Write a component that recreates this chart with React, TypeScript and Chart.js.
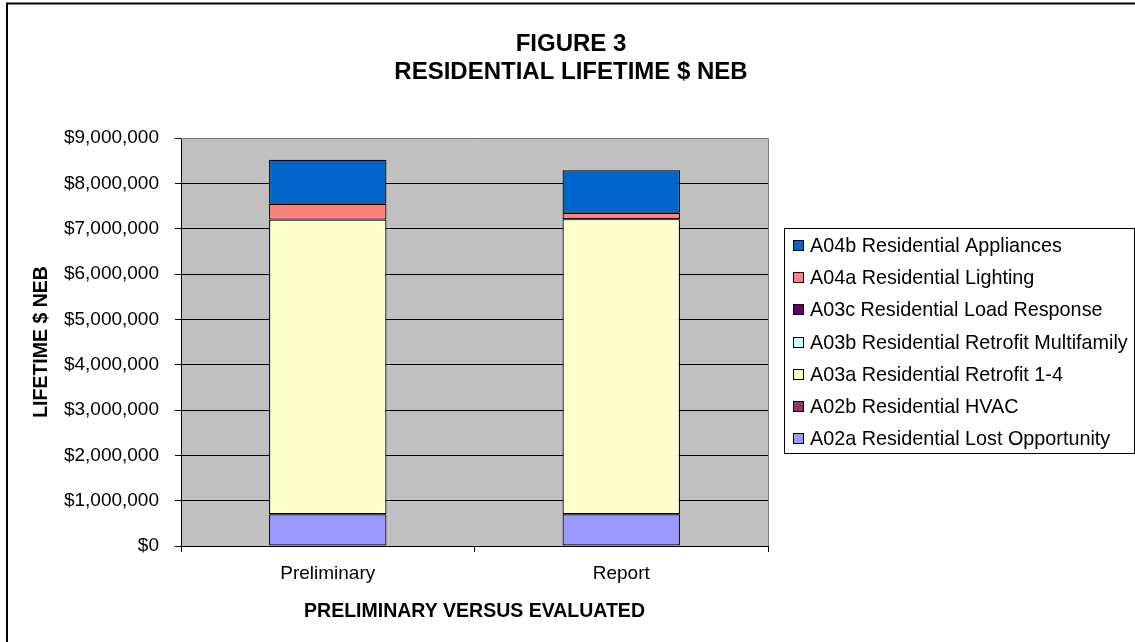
import React, { useEffect, useRef } from "react";
import { Chart, registerables } from "chart.js";

Chart.register(...registerables);

const categories = ["Preliminary", "Report"];
const seriesNames = [
  "A02a Residential Lost Opportunity",
  "A02b Residential HVAC",
  "A03a Residential Retrofit 1-4",
  "A03b Residential Retrofit Multifamily",
  "A03c Residential Load Response",
  "A04a Residential Lighting",
  "A04b Residential Appliances",
];
const lostOpportunity = [700000, 700000];
const hvac = [0, 0];
const retrofit14 = [6500000, 6510000];
const retrofitMultifamily = [0, 0];
const loadResponse = [0, 0];
const lighting = [350000, 140000];
const appliances = [970000, 940000];
const seriesColors = ["#9999FF", "#993366", "#FFFFCC", "#CCFFFF", "#660066", "#FF8080", "#0066CC"];
const yMax = 9000000;
const yStep = 1000000;
const titleLines = ["FIGURE 3", "RESIDENTIAL LIFETIME $ NEB"];
const yAxisTitle = "LIFETIME $ NEB";
const xAxisTitle = "PRELIMINARY VERSUS EVALUATED";

const FONT = "'Liberation Sans', Arial, sans-serif";
const W = 1135;
const H = 642;

const decorPlugin = {
  id: "decor",
  beforeDraw(chart: any) {
    const { ctx, chartArea: a } = chart;
    ctx.save();
    ctx.fillStyle = "#ffffff";
    ctx.fillRect(0, 0, W, H);
    ctx.strokeStyle = "#000000";
    ctx.lineWidth = 2;
    ctx.strokeRect(7, 3.5, W + 20, H + 20);
    ctx.fillStyle = "#C0C0C0";
    ctx.fillRect(a.left, a.top, a.right - a.left, a.bottom - a.top);
    ctx.restore();
  },
  beforeDatasetsDraw(chart: any) {
    const { ctx, chartArea: a } = chart;
    ctx.save();
    ctx.strokeStyle = "#808080";
    ctx.lineWidth = 1;
    ctx.beginPath();
    ctx.moveTo(a.left, Math.round(a.top) + 0.5);
    ctx.lineTo(Math.round(a.right) + 0.5, Math.round(a.top) + 0.5);
    ctx.lineTo(Math.round(a.right) + 0.5, a.bottom);
    ctx.stroke();
    ctx.restore();
  },
  afterDraw(chart: any) {
    const { ctx, chartArea: a } = chart;
    ctx.save();
    ctx.fillStyle = "#000000";
    ctx.textAlign = "center";
    ctx.textBaseline = "alphabetic";
    ctx.font = `bold 24px ${FONT}`;
    ctx.fillText(titleLines[0], 571, 51);
    ctx.fillText(titleLines[1], 571, 79);
    ctx.font = `bold 19.5px ${FONT}`;
    ctx.fillText(xAxisTitle, (a.left + a.right) / 2, 617);
    ctx.save();
    ctx.translate(47, (a.top + a.bottom) / 2);
    ctx.rotate(-Math.PI / 2);
    ctx.fillText(yAxisTitle, 0, 0);
    ctx.restore();
    const lx = 784.5;
    const ly = 228.5;
    const lw = 350;
    const lh = 225;
    ctx.strokeStyle = "#000000";
    ctx.lineWidth = 1;
    ctx.strokeRect(lx, ly, lw, lh);
    ctx.font = `19.8px ${FONT}`;
    ctx.textAlign = "left";
    ctx.textBaseline = "middle";
    const ds = chart.data.datasets;
    for (let i = 0; i < ds.length; i++) {
      const d = ds[ds.length - 1 - i];
      const cy = 245.5 + i * 32.2;
      ctx.fillStyle = d.backgroundColor;
      ctx.fillRect(793, Math.round(cy - 5.5), 11, 11);
      ctx.strokeStyle = "#000000";
      ctx.strokeRect(793.5, Math.round(cy - 5.5) + 0.5, 10, 10);
      ctx.fillStyle = "#000000";
      ctx.fillText(d.label, 810, cy + 1);
    }
    ctx.restore();
  },
};

export default function App() {
  const ref = useRef<HTMLCanvasElement | null>(null);
  useEffect(() => {
    if (!ref.current) return;
    const values = [lostOpportunity, hvac, retrofit14, retrofitMultifamily, loadResponse, lighting, appliances];
    const chart = new Chart(ref.current, {
      type: "bar",
      data: {
        labels: categories,
        datasets: values.map((v, i) => ({
          label: seriesNames[i],
          data: v,
          backgroundColor: seriesColors[i],
          borderColor: "#000000",
          borderWidth: 1.2,
          borderSkipped: false,
          barPercentage: 0.4,
          categoryPercentage: 1,
        })),
      },
      options: {
        responsive: false,
        animation: false,
        devicePixelRatio: 1,
        layout: { padding: { left: 0, top: 138, right: W - 768, bottom: 0 } },
        plugins: {
          legend: { display: false },
          title: { display: false },
          tooltip: { enabled: false },
        },
        scales: {
          x: {
            stacked: true,
            afterFit: (s: any) => {
              s.height = H - 546;
            },
            grid: {
              display: true,
              drawOnChartArea: false,
              offset: true,
              tickLength: 6,
              color: "#000000",
            },
            border: { display: true, color: "#000000", width: 1 },
            ticks: {
              color: "#000000",
              font: { family: FONT, size: 19 },
              padding: 10,
            },
          },
          y: {
            stacked: true,
            min: 0,
            max: yMax,
            afterFit: (s: any) => {
              s.width = 181;
            },
            grid: {
              color: "#000000",
              lineWidth: 1,
              tickLength: 6,
            },
            border: { display: true, color: "#000000", width: 1 },
            ticks: {
              stepSize: yStep,
              color: "#000000",
              padding: 16,
              font: { family: FONT, size: 19 },
              callback: (v: any) => "$" + Number(v).toLocaleString("en-US"),
            },
          },
        },
      },
      plugins: [decorPlugin],
    });
    return () => chart.destroy();
  }, []);
  return (
    <div style={{ position: "absolute", left: 0, top: 0, width: W, height: H }}>
      <canvas ref={ref} width={W} height={H} style={{ display: "block", width: W, height: H }} />
    </div>
  );
}
